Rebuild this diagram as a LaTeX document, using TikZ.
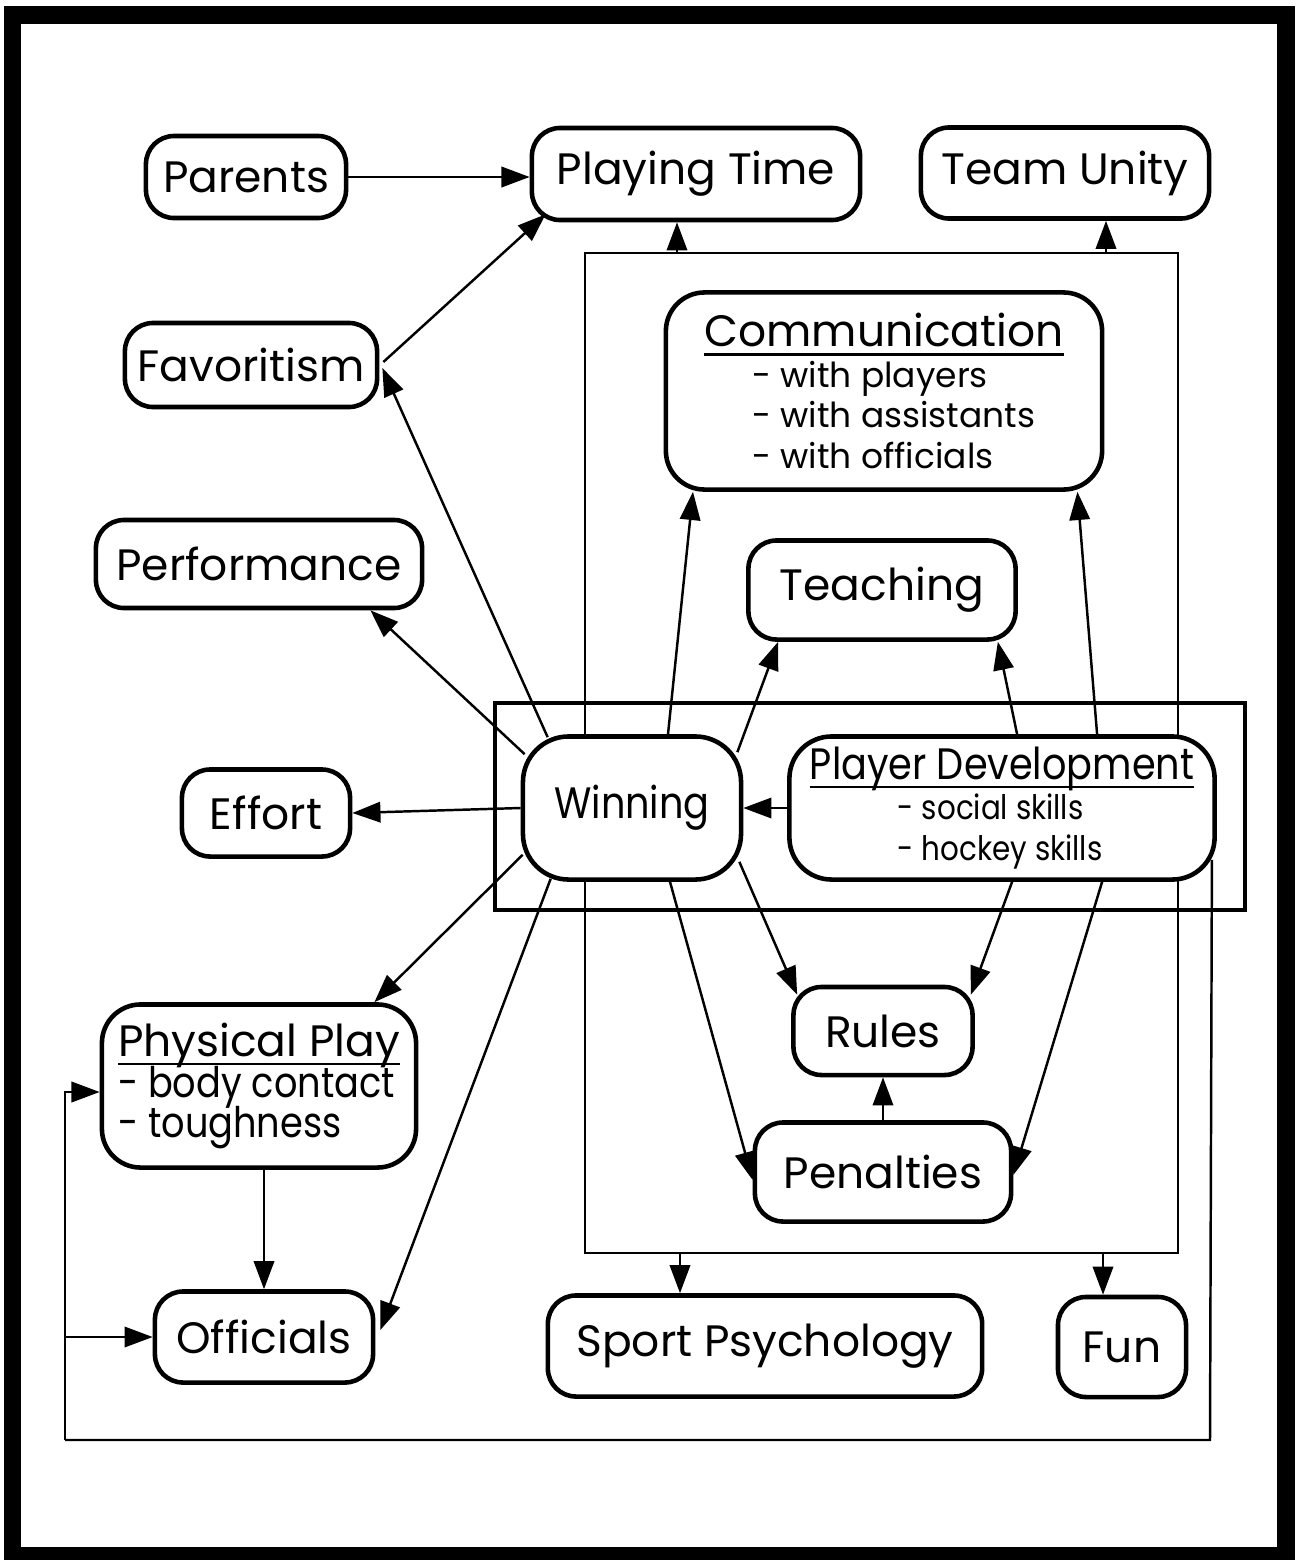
\documentclass[tikz,border=0pt]{standalone}
\usepackage{fontspec}
\setmainfont{Poppins}
\newfontfamily\narrowfont[FakeStretch=0.87]{Poppins}
\usetikzlibrary{arrows.meta}
\newcommand\boxfont{\fontsize{12.5}{11.6}\selectfont\lineskiplimit=-6pt\relax}
\newcommand\itemsize{\fontsize{9.8}{11.6}\selectfont}
\newcommand\pditem{\narrowfont\fontsize{9.6}{11.6}\selectfont}
\newcommand\ppitem{\narrowfont\fontsize{12}{11.6}\selectfont}
\newcommand\ulin[1]{\setbox0\hbox{#1}\rlap{\rule[-2.6pt]{\wd0}{0.7pt}}\box0}

\begin{document}
\begin{tikzpicture}[x=0.01cm, y=-0.01cm,
  every node/.style={font=\boxfont},
  box/.style={draw, line width=1.3pt, rounded corners=8pt, fill=white, inner sep=0pt, align=center},
  arr/.style={-{Triangle[length=8pt,width=5.8pt]}, line width=0.7pt},
  wire/.style={line width=0.7pt}]
\useasboundingbox (0,0) rectangle (1307,1560);
% outer frame and the two inner frames
\draw[line width=5.1pt] (12.5,15) rectangle (1286,1556);
\draw[wire] (585,253) rectangle (1178,1253);
\draw[line width=1.2pt] (495,703) rectangle (1245,910);
\coordinate (b1) at (677,253); \coordinate (b2) at (1106,253);
\coordinate (b3) at (680,1253); \coordinate (b4) at (1103,1253);
\coordinate (l1) at (1210,1440); \coordinate (l2) at (65,1440);

\node[box, minimum width=2.0cm, minimum height=0.82cm] (par) at (246,177) {Parents};
\node[box, minimum width=3.28cm, minimum height=0.92cm] (pt) at (696,174) {Playing Time};
\node[box, minimum width=2.88cm, minimum height=0.91cm] (tu) at (1065,173) {Team Unity};
\node[box, minimum width=2.52cm, minimum height=0.84cm] (fav) at (251,365) {Favoritism};
\node[box, minimum width=4.36cm, minimum height=1.97cm, rounded corners=11pt, align=left] (comm) at (884,391)
  {\ulin{Communication}\\ \hspace*{0.48cm}{\itemsize - with players}\\ \hspace*{0.48cm}{\itemsize - with assistants}\\ \hspace*{0.48cm}{\itemsize - with officials}};
\node[box, minimum width=3.26cm, minimum height=0.88cm] (perf) at (259,564) {Performance};
\node[box, minimum width=2.67cm, minimum height=0.99cm] (teach) at (882,590) {Teaching};
\node[box, minimum width=2.18cm, minimum height=1.43cm, rounded corners=13pt] (win) at (632,808) {\narrowfont Winning};
\node[box, minimum width=4.25cm, minimum height=1.43cm, rounded corners=12pt, align=left] (pd) at (1002,808)
  {{\narrowfont\ulin{Player Development}}\\ \hspace*{0.88cm}{\pditem - social skills}\\ \hspace*{0.88cm}{\pditem - hockey skills}};
\node[box, minimum width=1.68cm, minimum height=0.87cm] (eff) at (266,813) {Effort};
\node[box, minimum width=3.14cm, minimum height=1.63cm, rounded corners=11pt, align=left] (phys) at (259,1086)
  {\ulin{Physical Play}\\ {\ppitem - body contact}\\ {\ppitem - toughness}};
\node[box, minimum width=1.79cm, minimum height=0.88cm] (rules) at (883,1031) {Rules};
\node[box, minimum width=2.56cm, minimum height=0.99cm] (pen) at (883,1172) {Penalties};
\node[box, minimum width=2.18cm, minimum height=0.91cm] (off) at (264,1337) {Officials};
\node[box, minimum width=4.34cm, minimum height=1.01cm] (sp) at (765,1346) {Sport Psychology};
\node[box, minimum width=1.28cm, minimum height=1.0cm] (fun) at (1122,1347) {Fun};

\draw[arr] (par.east) -- (par.east -| pt.west);
\draw[arr] ([shift={(4,-3)}]fav.east) -- ([shift={(16,-8)}]pt.south west);
\draw[arr] ([shift={(27,3)}]win.north west) -- ([shift={(3,3)}]fav.east);
\draw[arr] ([shift={(4,20)}]win.north west) -- ([shift={(-54,0)}]perf.south east);
\draw[arr] (win.west) -- (eff.east);
\draw[arr] ([shift={(2,-27)}]win.south west) -- ([shift={(-44,0)}]phys.north east);
\draw[arr] ([shift={(30,-3)}]win.south west) -- ([shift={(5,-7)}]off.east);
\draw[arr] ([shift={(36,0)}]win.north) -- ([shift={(-191,0)}]comm.south);
\draw[arr] ([shift={(-6,18)}]win.north east) -- ([shift={(32,0)}]teach.south west);
\draw[arr] ([shift={(-4,-20)}]win.south east) -- ([shift={(6,10)}]rules.north west);
\draw[arr] ([shift={(38,0)}]win.south) -- ([shift={(0,8)}]pen.west);
\draw[arr] (pd.west) -- (win.east);
\draw[arr] ([shift={(230,0)}]pd.north west) -- ([shift={(-20,0)}]teach.south east);
\draw[arr] ([shift={(310,0)}]pd.north west) -- ([shift={(-27,0)}]comm.south east);
\draw[arr] ([shift={(225,0)}]pd.south west) -- ([shift={(-4,10)}]rules.north east);
\draw[arr] ([shift={(315,0)}]pd.south west) -- ([shift={(0,3)}]pen.east);
\draw[arr] (pen) -- (rules);
\draw[arr] (off.north |- phys.south) -- (off.north);
% out of the frame
\draw[arr] (b1) -- (b1 |- pt.south);
\draw[arr] (b2) -- (b2 |- tu.south);
\draw[arr] (b3) -- (b3 |- sp.north);
\draw[arr] (b4) -- (b4 |- fun.north);
% loop back to the left
\draw[wire] ([shift={(-5,-22)}]pd.south east) -- (l1) -- (l2);
\draw[arr] (l2) |- ([shift={(0,6)}]phys.west);
\draw[arr] (l2 |- off.west) -- (off.west);
\end{tikzpicture}
\end{document}
